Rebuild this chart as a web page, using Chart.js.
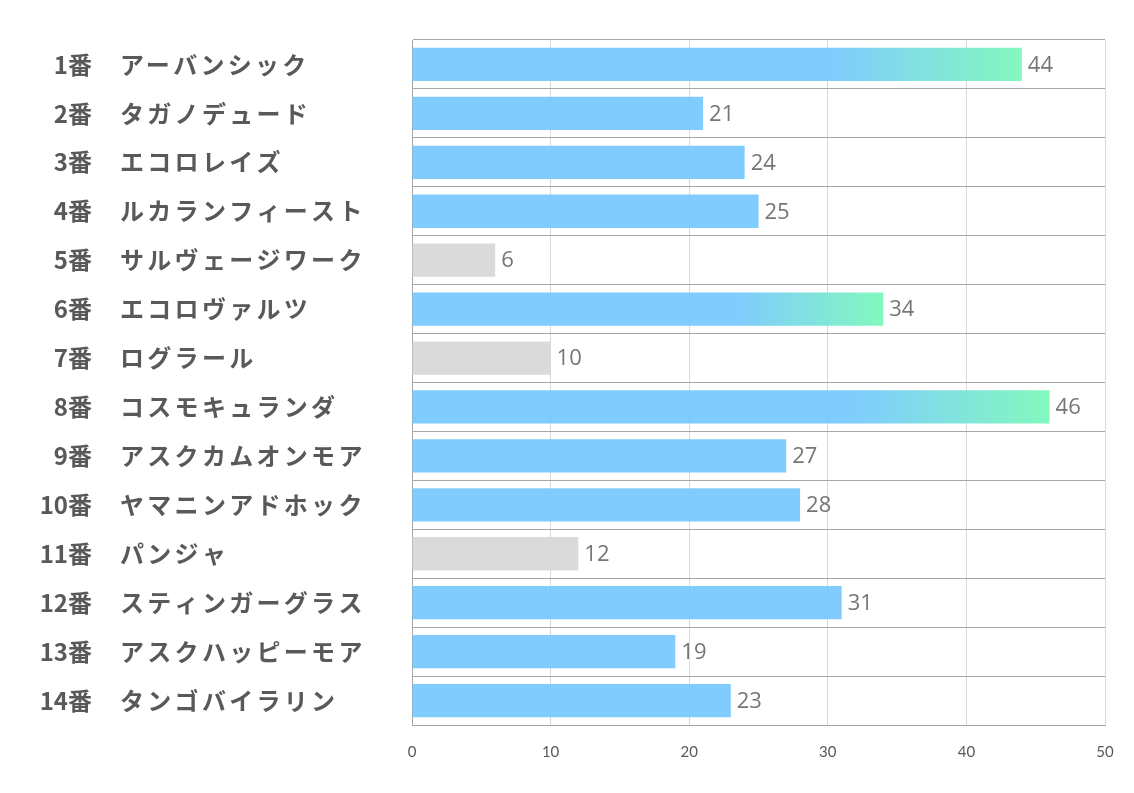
<!DOCTYPE html>
<html>
<head>
<meta charset="utf-8">
<script src="https://cdn.jsdelivr.net/npm/chart.js@4.4.0/dist/chart.umd.min.js"></script>
<style>
  html, body { margin: 0; padding: 0; background: #fff; }
  #wrap { width: 1134px; height: 793px; position: relative; }
</style>
</head>
<body>
<div id="wrap"><canvas id="chart"></canvas></div>
<script>
// horse numbers and names
const numbers = ['1番', '2番', '3番', '4番', '5番', '6番', '7番', '8番', '9番', '10番', '11番', '12番', '13番', '14番'];
const names = ['アーバンシック', 'タガノデュード', 'エコロレイズ', 'ルカランフィースト', 'サルヴェージワーク',
    'エコロヴァルツ', 'ログラール', 'コスモキュランダ', 'アスクカムオンモア', 'ヤマニンアドホック',
    'パンジャ', 'スティンガーグラス', 'アスクハッピーモア', 'タンゴバイラリン'];
const values = [44, 21, 24, 25, 6, 34, 10, 46, 27, 28, 12, 31, 19, 23];
// 'b' = blue, 'g' = gray, 'x' = blue→green highlight
const kinds = ['x', 'b', 'b', 'b', 'g', 'x', 'g', 'x', 'b', 'b', 'g', 'b', 'b', 'b'];
const xTicks = [0, 10, 20, 30, 40, 50];

const BLUE = 'rgba(118, 200, 254, 0.93)';
const GREEN = 'rgba(124, 248, 186, 0.95)';
const GRAY = 'rgba(216, 216, 216, 0.95)';

function barColor(ctx) {
    const i = ctx.dataIndex;
    const k = kinds[i];
    if (k === 'g') return GRAY;
    if (k === 'b') return BLUE;
    const chart = ctx.chart;
    const xs = chart.scales.x;
    if (!xs || xs.left === undefined) return BLUE;
    const x0 = xs.getPixelForValue(0);
    const x1 = xs.getPixelForValue(values[i]);
    if (!isFinite(x0) || !isFinite(x1)) return BLUE;
    const g = chart.ctx.createLinearGradient(x0, 0, x1, 0);
    g.addColorStop(0, BLUE);
    g.addColorStop(0.69, BLUE);
    g.addColorStop(1, GREEN);
    return g;
}

// draws the two-column category labels and the value labels
const labelPlugin = {
    id: 'labelPlugin',
    afterDatasetsDraw(chart) {
        const ctx = chart.ctx;
        const ys = chart.scales.y;
        const meta = chart.getDatasetMeta(0);
        ctx.save();
        ctx.textBaseline = 'middle';
        ctx.fillStyle = '#595959';
        ctx.font = 'bold 24px "Noto Sans CJK JP"';
        numbers.forEach((n, i) => {
            const y = ys.getPixelForTick(i);
            ctx.textAlign = 'right';
            ctx.letterSpacing = '0px';
            ctx.fillText(n, 92, y);
            ctx.textAlign = 'left';
            ctx.letterSpacing = '3.3px';
            ctx.fillText(names[i], 120, y);
        });
        ctx.letterSpacing = '0px';
        ctx.font = '22px "Open Sans"';
        ctx.fillStyle = '#767676';
        ctx.textAlign = 'left';
        meta.data.forEach((bar, i) => {
            ctx.fillText(String(values[i]), bar.x + 6, bar.y + 1);
        });
        ctx.restore();
    }
};

new Chart(document.getElementById('chart'), {
    type: 'bar',
    data: {
        labels: numbers.map((n, i) => n + '　' + names[i]),
        datasets: [{
            data: values,
            backgroundColor: barColor,
            borderWidth: 0,
            barPercentage: 0.68,
            categoryPercentage: 1.0
        }]
    },
    options: {
        indexAxis: 'y',
        responsive: true,
        maintainAspectRatio: false,
        animation: false,
        layout: { padding: { top: 40, right: 29, left: 0, bottom: 0 } },
        plugins: {
            legend: { display: false },
            tooltip: { enabled: false }
        },
        scales: {
            x: {
                min: 0,
                max: 50,
                afterBuildTicks: (scale) => { scale.ticks = xTicks.map(v => ({ value: v })); },
                afterFit: (scale) => { scale.height = 68; },
                grid: { color: '#d9d9d9', lineWidth: 1, drawTicks: false },
                border: { color: '#a6a6a6', width: 1 },
                ticks: {
                    padding: 18,
                    color: '#595959',
                    font: { family: 'Lato', size: 15 }
                }
            },
            y: {
                afterFit: (scale) => { scale.width = 412; },
                grid: { color: '#a6a6a6', lineWidth: 1, drawTicks: false, offset: true },
                border: { color: '#a6a6a6', width: 1 },
                ticks: { display: false }
            }
        }
    },
    plugins: [labelPlugin]
});
</script>
</body>
</html>
